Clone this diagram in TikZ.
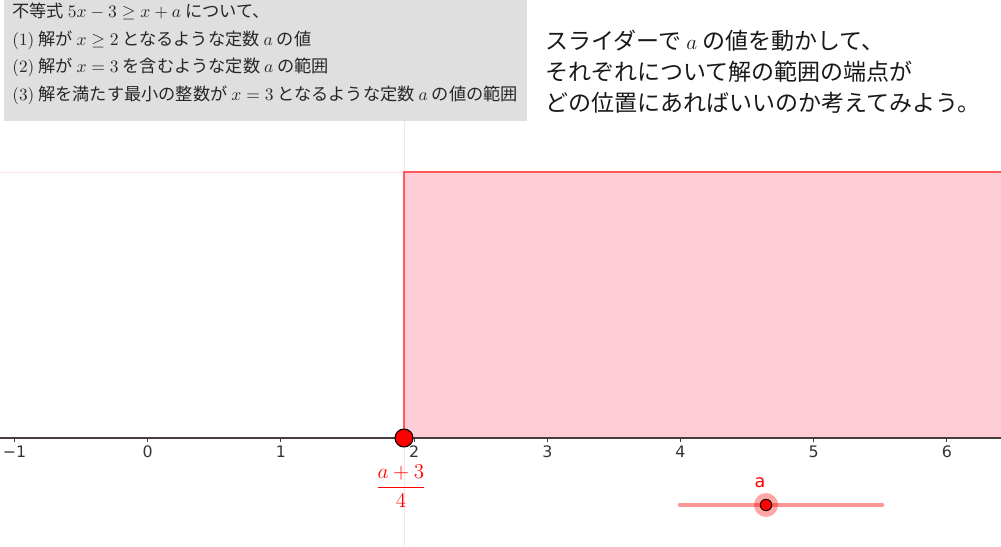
\documentclass[tikz,border=0pt]{standalone}
\usepackage{fontspec}
\usepackage{amsmath}
\usepackage{tikz}
\usetikzlibrary{positioning,calc}
\newfontfamily\jpfont{Noto Sans CJK JP}
\newfontfamily\axisfont{DejaVu Sans}
\definecolor{boxgray}{RGB}{223,223,223}
\definecolor{solfill}{RGB}{255,205,213}
\definecolor{solline}{RGB}{255,90,90}
\definecolor{guide}{RGB}{255,226,232}
\definecolor{axisline}{RGB}{72,60,60}
\definecolor{slidebar}{RGB}{255,150,150}
\tikzset{
  probtxt/.style = {anchor=north west, align=left, inner sep=0pt, text=black!85,
                    font=\jpfont\fontsize{9.8}{15.6}\selectfont},
  hinttxt/.style = {anchor=north west, align=left, inner sep=0pt, text=black!90,
                    font=\jpfont\fontsize{13.1}{17.6}\selectfont},
  ticklbl/.style = {font=\axisfont\fontsize{9}{10}\selectfont,
                    text=black!80, inner sep=0pt},
  endpt/.style   = {circle, draw=black, fill=red, line width=0.6pt,
                    minimum size=0.36cm, inner sep=0pt},
  fraclbl/.style = {text=red, inner sep=0pt, font=\fontsize{13}{15}\selectfont},
  halo/.style    = {circle, fill=red, fill opacity=0.35, minimum size=0.48cm,
                    inner sep=0pt},
  knob/.style    = {circle, draw=black, fill=red, line width=0.5pt,
                    minimum size=0.23cm, inner sep=0pt},
  slbl/.style    = {text=red, inner sep=0pt,
                    font=\axisfont\fontsize{10}{12}\selectfont},
}

\begin{document}
\begin{tikzpicture}[x=0.02cm, y=-0.02cm]
\useasboundingbox (0,0) rectangle (1001,547);

% problem box
\fill[boxgray] (4,-2) rectangle (527,121);
\node[probtxt] (prob) at (12,3)
     {不等式 $5x-3\geq x+a$ について、\\
      \textrm{(1)} 解が $x\geq 2$ となるような定数 $a$ の値\\
      \textrm{(2)} 解が $x=3$ を含むような定数 $a$ の範囲\\
      \textrm{(3)} 解を満たす最小の整数が $x=3$ となるような定数 $a$ の値の範囲};

\node[hinttxt] (hint) at (545,30)
     {スライダーで $a$ の値を動かして、\\
      それぞれについて解の範囲の端点が\\
      どの位置にあればいいのか考えてみよう。};

% solution region x >= (a+3)/4
\draw[guide, line width=0.5pt] (404,121) -- (404,547);
\draw[guide, line width=0.5pt] (0,172) -- (404,172);
\fill[solfill] (404,172) rectangle (1001,438);
\draw[solline, line width=1.1pt] (404,438) -- (404,172) -- (1001,172);

% number line
\draw[axisline, line width=0.8pt] (0,438) -- (1001,438);
\foreach \t [count=\i from 0] in {−1,0,1,2,3,4,5,6}{
  \draw[axisline, line width=0.6pt] ({147.7+133.2*(\i-1)},438) -- ++(0,4);
  \node[ticklbl] (tk\i) at ({147.7+133.2*(\i-1)},452) {\t};
}

\node[endpt] (A) at (404,438) {};
\node[fraclbl] (frac) at (401,486) {$\dfrac{a+3}{4}$};

% slider
\coordinate (sl0) at (680,505);
\coordinate (sl1) at (882,505);
\draw[slidebar, line width=2.6pt, line cap=round] (sl0) -- (sl1);
\node[halo] (knobhalo) at (766,505) {};
\node[knob] (knob) at (766,505) {};
\node[slbl] (slname) at (760,483) {a};
\end{tikzpicture}
\end{document}
